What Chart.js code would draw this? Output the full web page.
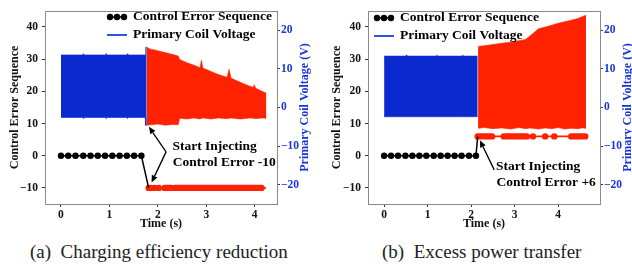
<!DOCTYPE html>
<html><head><meta charset="utf-8">
<script src="https://cdn.jsdelivr.net/npm/chart.js@4.4.0/dist/chart.umd.min.js"></script>
<style>
html,body{margin:0;padding:0;background:#fff;width:632px;height:268px;overflow:hidden;}
.wrap{position:absolute;top:0;width:316px;height:232px;}
#wrapA{left:0;} #wrapB{left:316px;}
.cap{position:absolute;top:241px;font-family:"Liberation Serif","Times New Roman",serif;font-size:19px;color:#222;white-space:nowrap;line-height:22px;}
</style></head><body>
<div class="wrap" id="wrapA"><canvas id="cA" width="316" height="232"></canvas></div>
<div class="wrap" id="wrapB"><canvas id="cB" width="316" height="232"></canvas></div>
<div class="cap" id="capA" style="left:30px;">(a)&nbsp;&nbsp;Charging efficiency reduction</div>
<div class="cap" id="capB" style="left:382px;">(b)&nbsp;&nbsp;Excess power transfer</div>
<script>
// ---------- shared tick labels ----------
const timeTicks = [0, 1, 2, 3, 4];
const ceTicks = [-10, 0, 10, 20, 30, 40];
const voltTicks = [-20, -10, 0, 10, 20];

// ---------- Panel (a): Charging efficiency reduction ----------
const ceNormalTimeA  = [0, 0.15, 0.30, 0.46, 0.61, 0.76, 0.91, 1.06, 1.21, 1.36, 1.51, 1.66];
const ceNormalValueA = [0, 0, 0, 0, 0, 0, 0, 0, 0, 0, 0, 0];
const ceInjectValueA = -10;
const ceInjectSpanA  = [1.81, 4.23];
const cePacketTimeA  = [1.81, 1.86, 1.93, 2.02];
const ceBurstStartA  = [2.14, 2.35];
const ceBurstEndA    = [2.27, 4.14];

const vBlueTimeA  = [0, 0.45, 0.46, 0.47, 0.92, 0.93, 0.94, 1.36, 1.37, 1.38, 1.74, 1.75, 1.77];
const vBlueUpperA = [13.6, 13.6, 13.9, 13.6, 13.6, 13.9, 13.6, 13.6, 13.9, 13.6, 13.6, 15.6, 15.6];
const vBlueLowerA = [-2.6, -2.6, -2.9, -2.6, -2.6, -2.9, -2.6, -2.6, -2.9, -2.6, -2.6, -4.6, -4.6];
const vRedTimeA   = [1.77, 1.85, 2.00, 2.15, 2.31, 2.42, 2.45, 2.60, 2.75, 2.87, 2.90, 2.93, 3.10, 3.25, 3.43, 3.47, 3.51, 3.70, 3.90, 3.97, 3.99, 4.02, 4.15, 4.24];
const vRedUpperA  = [15.6, 15.1, 14.7, 14.2, 13.7, 13.3, 12.4, 11.6, 10.9, 10.3, 12.2, 10.2, 9.3, 8.5, 7.8, 9.9, 7.6, 6.5, 5.5, 5.2, 5.9, 5.0, 4.2, 3.7];
const vRedLowerA  = [-4.6, -4.5, -4.3, -4.6, -4.4, -4.5, -2.8, -3.0, -2.7, -3.0, -2.8, -2.7, -3.0, -2.7, -2.9, -2.8, -2.7, -3.0, -2.7, -2.8, -2.8, -2.9, -2.7, -2.8];

// ---------- Panel (b): Excess power transfer ----------
const ceNormalTimeB  = [0, 0.16, 0.32, 0.49, 0.65, 0.81, 0.97, 1.14, 1.30, 1.46, 1.62, 1.78, 1.95, 2.11];
const ceNormalValueB = [0, 0, 0, 0, 0, 0, 0, 0, 0, 0, 0, 0, 0, 0];
const ceInjectValueB = 6;
const ceInjectSpanB  = [2.15, 4.64];
const cePacketTimeB  = [3.42, 3.70, 3.91];
const ceBurstStartB  = [2.15, 2.75, 4.30];
const ceBurstEndB    = [2.48, 3.28, 4.62];

const vBlueTimeB  = [0, 0.50, 0.51, 0.52, 1.20, 1.21, 1.22, 1.80, 1.81, 1.82, 2.15];
const vBlueUpperB = [13.3, 13.3, 13.6, 13.3, 13.3, 13.6, 13.3, 13.3, 13.6, 13.3, 13.3];
const vBlueLowerB = [-2.4, -2.4, -2.4, -2.4, -2.4, -2.4, -2.4, -2.4, -2.4, -2.4, -2.4];
const vRedTimeB   = [2.16, 2.30, 2.50, 2.70, 2.90, 3.10, 3.25, 3.35, 3.55, 3.70, 3.85, 4.00, 4.15, 4.30, 4.45, 4.55, 4.64];
const vRedUpperB  = [15.8, 16.0, 16.3, 16.6, 16.9, 17.3, 17.6, 18.5, 20.4, 20.8, 21.3, 21.8, 22.2, 22.6, 23.0, 23.5, 23.9];
const vRedLowerB  = [-5.4, -5.2, -5.5, -5.3, -5.6, -5.2, -5.5, -5.3, -5.6, -5.3, -5.5, -5.2, -5.6, -5.4, -5.5, -5.3, -5.4];

const RED = '#ff2200', BLUE = '#0a2ad0', BLUE_TXT = '#1836d8', LEG_BLUE = '#2f55e6';
const FONT = '"Liberation Serif","Times New Roman",serif';
const minus = s => String(s).replace('-', '\u2212');
const pts = (xs, ys) => xs.map((x, i) => ({x, y: ys[i]}));
const bursts = (st, en, v) => { const out = []; st.forEach((s, i) => { if (i) out.push({x: (en[i-1] + s) / 2, y: null}); out.push({x: s, y: v}, {x: en[i], y: v}); }); return out; };

const boxPlugin = {
  id: 'box',
  afterDatasetsDraw(chart) {
    const {ctx, chartArea: a} = chart;
    ctx.save(); ctx.strokeStyle = '#8a8a8a'; ctx.lineWidth = 1;
    ctx.strokeRect(Math.round(a.left) + 0.5, Math.round(a.top) + 0.5, Math.round(a.right - a.left), Math.round(a.bottom - a.top));
    ctx.restore();
  }
};

const decorPlugin = {
  id: 'decor',
  afterDraw(chart, args, o) {
    const {ctx} = chart;
    const sx = chart.scales.x, sy = chart.scales.y;
    ctx.save();
    // right-axis title (reads bottom to top)
    ctx.translate(o.rightTitleX, (chart.chartArea.top + chart.chartArea.bottom) / 2);
    ctx.rotate(-Math.PI / 2);
    ctx.font = 'bold 12px ' + FONT; ctx.fillStyle = BLUE_TXT;
    ctx.textAlign = 'center'; ctx.textBaseline = 'middle';
    ctx.fillText('Primary Coil Voltage (V)', 0, 0);
    ctx.restore();

    // legend
    ctx.save();
    const lx = o.legendX, ly = o.legendY;
    ctx.strokeStyle = '#000'; ctx.lineWidth = 1.5;
    ctx.beginPath(); ctx.moveTo(lx, ly); ctx.lineTo(lx + 20, ly); ctx.stroke();
    ctx.fillStyle = '#000';
    [lx + 3, lx + 10, lx + 17].forEach(cx => { ctx.beginPath(); ctx.arc(cx, ly, 3.2, 0, Math.PI * 2); ctx.fill(); });
    ctx.strokeStyle = LEG_BLUE; ctx.lineWidth = 2;
    ctx.beginPath(); ctx.moveTo(lx, ly + 18); ctx.lineTo(lx + 20, ly + 18); ctx.stroke();
    ctx.font = 'bold 13.5px ' + FONT; ctx.fillStyle = '#000'; ctx.textBaseline = 'middle'; ctx.textAlign = 'left';
    ctx.fillText(chart.data.datasets[0].label, lx + 26, ly);
    ctx.fillText(o.voltLabel, lx + 26, ly + 18);

    // annotation text
    ctx.font = 'bold 13.5px ' + FONT;
    o.text.forEach(t => ctx.fillText(t.s, sx.getPixelForValue(t.x), sy.getPixelForValue(t.y)));
    // arrows
    ctx.strokeStyle = '#000'; ctx.fillStyle = '#000'; ctx.lineWidth = 1.3;
    o.arrows.forEach(a => {
      const x0 = sx.getPixelForValue(a.from[0]), y0 = sy.getPixelForValue(a.from[1]);
      const x1 = sx.getPixelForValue(a.to[0]), y1 = sy.getPixelForValue(a.to[1]);
      const ang = Math.atan2(y1 - y0, x1 - x0), L = 7, W = 3;
      const bx = x1 - L * Math.cos(ang), by = y1 - L * Math.sin(ang);
      ctx.beginPath(); ctx.moveTo(x0, y0); ctx.lineTo(bx, by); ctx.stroke();
      ctx.beginPath(); ctx.moveTo(x1, y1);
      ctx.lineTo(bx + W * Math.sin(ang), by - W * Math.cos(ang));
      ctx.lineTo(bx - W * Math.sin(ang), by + W * Math.cos(ang));
      ctx.closePath(); ctx.fill();
    });
    ctx.restore();
  }
};

function makeChart(id, p) {
  const tickFont = {family: FONT, size: 11.5, weight: 'bold'};
  const titleFont = {family: FONT, size: 12, weight: 'bold'};
  const lastNormal = p.ceNormalTime.length;
  const ceLine = pts(p.ceNormalTime, p.ceNormalValue).concat([{x: p.injSpan[0], y: p.injValue}]);
  const datasets = [
    {label: 'Control Error Sequence', data: ceLine, yAxisID: 'y', borderColor: '#000', backgroundColor: '#000', borderWidth: 1.5,
     pointRadius: ceLine.map((d, i) => i < lastNormal ? 3.2 : 0), pointBorderWidth: 0, order: 0},
    {label: 'injected-line', data: [{x: p.injSpan[0], y: p.injValue}, {x: p.injSpan[1], y: p.injValue}], yAxisID: 'y',
     borderColor: RED, borderWidth: 1.6, pointRadius: 0, order: 1},
    {label: 'injected-bursts', data: bursts(p.burstStart, p.burstEnd, p.injValue), yAxisID: 'y', borderColor: RED,
     borderWidth: 6.4, borderCapStyle: 'round', spanGaps: false, pointRadius: 0, order: 2},
    {label: 'injected-packets', data: p.packetTime.map(x => ({x, y: p.injValue})), yAxisID: 'y', showLine: false,
     pointRadius: 3.2, pointBorderWidth: 0, backgroundColor: RED, borderColor: RED, order: 3},
    {label: 'Primary Coil Voltage', data: pts(p.redTime, p.redUpper), yAxisID: 'y2', borderColor: RED, borderWidth: 0.6,
     backgroundColor: RED, pointRadius: 0, fill: '+1', order: 4},
    {label: 'v-red-low', data: pts(p.redTime, p.redLower), yAxisID: 'y2', borderColor: RED, borderWidth: 0.6, pointRadius: 0, order: 5},
    {label: 'Primary Coil Voltage', data: pts(p.blueTime, p.blueUpper), yAxisID: 'y2', borderColor: BLUE, borderWidth: 0.6,
     backgroundColor: BLUE, pointRadius: 0, fill: '+1', order: 6},
    {label: 'v-blue-low', data: pts(p.blueTime, p.blueLower), yAxisID: 'y2', borderColor: BLUE, borderWidth: 0.6, pointRadius: 0, order: 7}
  ];
  const gridOpts = {drawOnChartArea: false, drawTicks: true, tickLength: 3, tickColor: '#333', tickWidth: 1};
  return new Chart(document.getElementById(id), {
    type: 'line',
    data: {datasets},
    options: {
      responsive: false, animation: false, devicePixelRatio: 1,
      layout: {padding: {top: 7, left: 0, right: 0, bottom: 0}},
      elements: {line: {tension: 0}},
      plugins: {legend: {display: false}, tooltip: {enabled: false},
        decor: {rightTitleX: p.rightTitleX, legendX: p.legendX, legendY: p.legendY, voltLabel: 'Primary Coil Voltage', text: p.text, arrows: p.arrows}},
      scales: {
        x: {type: 'linear', min: p.xMin, max: p.xMax,
            afterBuildTicks: s => { s.ticks = timeTicks.map(v => ({value: v})); },
            afterFit: s => { s.height = 28; },
            ticks: {font: tickFont, color: '#111', padding: 1, maxRotation: 0, callback: v => minus(v)},
            grid: gridOpts, border: {display: false},
            title: {display: true, text: 'Time (s)', font: titleFont, color: '#111', padding: {top: 0, bottom: 1}}},
        y: {position: 'left', min: -15, max: 45,
            afterBuildTicks: s => { s.ticks = ceTicks.map(v => ({value: v})); },
            afterFit: s => { s.width = p.leftW; },
            ticks: {font: tickFont, color: '#111', padding: 4, callback: v => minus(v)},
            grid: gridOpts, border: {display: false},
            title: {display: true, text: 'Control Error Sequence', font: titleFont, color: '#111', padding: {top: p.leftTitlePad, bottom: 0}}},
        y2: {position: 'right', min: -25, max: 25,
            afterBuildTicks: s => { s.ticks = voltTicks.map(v => ({value: v})); },
            afterFit: s => { s.width = p.rightW; },
            ticks: {font: tickFont, color: BLUE_TXT, padding: 1, callback: v => minus(v)},
            grid: gridOpts, border: {display: false}}
      }
    },
    plugins: [boxPlugin, decorPlugin]
  });
}

makeChart('cA', {
  ceNormalTime: ceNormalTimeA, ceNormalValue: ceNormalValueA, injValue: ceInjectValueA, injSpan: ceInjectSpanA,
  packetTime: cePacketTimeA, burstStart: ceBurstStartA, burstEnd: ceBurstEndA,
  blueTime: vBlueTimeA, blueUpper: vBlueUpperA, blueLower: vBlueLowerA,
  redTime: vRedTimeA, redUpper: vRedUpperA, redLower: vRedLowerA,
  xMin: -0.33, xMax: 4.46, leftW: 45, rightW: 39, leftTitlePad: 8, rightTitleX: 305,
  legendX: 107, legendY: 17,
  text: [{s: 'Start Injecting', x: 2.30, y: 2.8}, {s: 'Control Error -10', x: 2.31, y: -2.1}],
  arrows: [{from: [2.17, 1.2], to: [1.815, 9.0]}, {from: [2.17, 1.2], to: [1.87, -8.3]}]
});
makeChart('cB', {
  ceNormalTime: ceNormalTimeB, ceNormalValue: ceNormalValueB, injValue: ceInjectValueB, injSpan: ceInjectSpanB,
  packetTime: cePacketTimeB, burstStart: ceBurstStartB, burstEnd: ceBurstEndB,
  blueTime: vBlueTimeB, blueUpper: vBlueUpperB, blueLower: vBlueLowerB,
  redTime: vRedTimeB, redUpper: vRedUpperB, redLower: vRedLowerB,
  xMin: -0.37, xMax: 4.96, leftW: 52, rightW: 32, leftTitlePad: 14, rightTitleX: 312,
  legendX: 58, legendY: 18,
  text: [{s: 'Start Injecting', x: 2.57, y: -3.3}, {s: 'Control Error +6', x: 2.58, y: -8.3}],
  arrows: [{from: [2.53, -4.4], to: [2.2, 4.8]}]
});
</script>
</body></html>
